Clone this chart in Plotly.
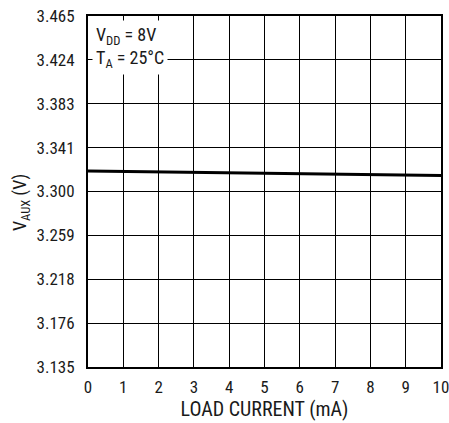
import plotly.graph_objects as go

load_current = [0, 1, 2, 3, 4, 5, 6, 7, 8, 9, 10]
v_aux = [3.3192, 3.3188, 3.3184, 3.3180, 3.3176, 3.3172, 3.3168, 3.3164, 3.3160, 3.3156, 3.3151]
y_tick_vals = [3.135 + i * 0.04125 for i in range(9)]
y_tick_text = ["3.135", "3.176", "3.218", "3.259", "3.300", "3.341", "3.383", "3.424", "3.465"]
x_title = "LOAD CURRENT (mA)"
y_title = "V<sub>AUX</sub> (V)"
note = "V<sub>DD</sub> = 8V<br>T<sub>A</sub> = 25°C"

FONT = "Roboto Condensed, Roboto, sans-serif"
TXT = "#1a1a1a"
CLEAR = "rgba(0,0,0,0)"

fig = go.Figure()
fig.add_trace(go.Scatter(x=load_current, y=v_aux, mode="lines",
                         line=dict(color="black", width=3), showlegend=False))

fig.update_layout(
    width=449, height=423,
    margin=dict(l=88, r=8, t=16, b=56, autoexpand=False),
    paper_bgcolor="white", plot_bgcolor="white",
    font=dict(family=FONT, size=17, color=TXT),
    xaxis=dict(range=[0, 10], tickvals=load_current, showgrid=True, gridcolor="black", gridwidth=1,
               showline=True, linecolor="black", linewidth=2, mirror=True, zeroline=False,
               ticks="outside", ticklen=4, tickcolor=CLEAR, ticklabeloverflow="allow",
               tickfont=dict(family=FONT, size=17, color=TXT),
               title=dict(text=x_title, standoff=5,
                          font=dict(family=FONT, size=20, color=TXT))),
    yaxis=dict(range=[3.135, 3.465], tickvals=y_tick_vals, ticktext=y_tick_text, showgrid=True,
               gridcolor="black", gridwidth=1, showline=True, linecolor="black", linewidth=2,
               mirror=True, zeroline=False, ticks="outside", ticklen=8, tickcolor=CLEAR,
               ticklabeloverflow="allow",
               tickfont=dict(family=FONT, size=17, color=TXT)),
    annotations=[
        dict(xref="paper", yref="paper", x=0, y=1, xanchor="left", yanchor="top",
             xshift=4, yshift=-4, text=note, showarrow=False,
             align="left", bgcolor="white", borderpad=3,
             font=dict(family=FONT, size=18, color=TXT)),
        dict(xref="paper", yref="paper", x=0, y=0.467, xanchor="center", yanchor="middle",
             xshift=-67, text=y_title, textangle=-90, showarrow=False,
             font=dict(family=FONT, size=18, color=TXT)),
    ],
)

fig.write_html("out.html", config={"displayModeBar": False},
               post_script="document.body.style.margin='0';")
